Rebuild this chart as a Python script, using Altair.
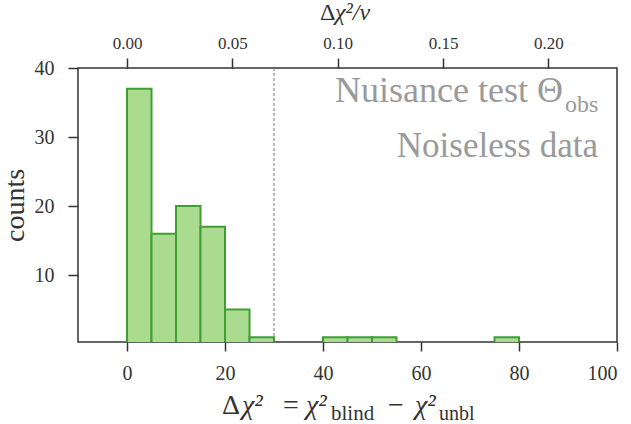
import altair as alt
import pandas as pd

# ---- data ----
bin_start = [0, 5, 10, 15, 20, 25, 40, 45, 50, 75]
bin_end = [5, 10, 15, 20, 25, 30, 45, 50, 55, 80]
counts = [37, 16, 20, 17, 5, 1, 1, 1, 1, 1]
x_ticks = [0, 20, 40, 60, 80, 100]
y_ticks = [10, 20, 30, 40]
top_ticks = [0.00, 0.05, 0.10, 0.15, 0.20]
nu = 430          # degrees of freedom (Δχ² / ν on the top axis)
cut = [30]        # dashed threshold line
x_min, x_max = -10, 100
y_min, y_max = 0.3, 40

FONT = "Liberation Serif"
W, H = 539, 274
DARK = "#333333"
GREY = "#9a9a9a"

hist = pd.DataFrame({"start": bin_start, "end": bin_end, "count": counts})

bars = alt.Chart(hist).mark_rect(
    fill="#aadb8e", stroke="#3f9f34", strokeWidth=2, clip=True
).encode(
    x=alt.X("start:Q",
            scale=alt.Scale(domain=[x_min, x_max], nice=False, zero=False),
            axis=alt.Axis(orient="bottom", values=x_ticks, title=None,
                          labelFontSize=20, labelPadding=12, tickSize=9)),
    x2="end:Q",
    y=alt.Y("count:Q",
            scale=alt.Scale(domain=[y_min, y_max], nice=False, zero=False),
            axis=alt.Axis(values=y_ticks, title="counts", labelFontSize=20,
                          labelPadding=14, tickSize=10,
                          titleFontSize=28, titleFontWeight="normal",
                          titleColor=DARK, titleAngle=270, titleX=-55,
                          titleY=H / 2, titleAlign="center",
                          titleBaseline="alphabetic")),
    y2=alt.datum(0),
)

rule = alt.Chart(pd.DataFrame({"cut": cut})).mark_rule(
    color="#777777", strokeWidth=1, strokeDash=[3, 2]
).encode(x=alt.X("cut:Q", title=None))


def label(text, x, y, size, align="left", color=DARK, style="normal"):
    return alt.Chart(pd.DataFrame({"t": [text]})).mark_text(
        align=align, baseline="alphabetic", fontSize=size, font=FONT,
        color=color, fontStyle=style
    ).encode(x=alt.value(x), y=alt.value(y), text="t:N")


texts = [
    # annotation
    label("Nuisance test Θ", 485, 34, 36, align="right", color=GREY),
    label("obs", 487, 44, 24, color=GREY),
    label("Noiseless data", 520, 89, 35, align="right", color=GREY),
    # bottom title  Δχ² = χ²_blind − χ²_unbl
    label("Δ", 144, 346, 28),
    label("χ²", 164, 346, 28, style="italic"),
    label("=", 205, 346, 28),
    label("χ²", 228, 346, 28, style="italic"),
    label("blind", 253, 352, 21),
    label("−", 310, 346, 28),
    label("χ²", 337, 346, 28, style="italic"),
    label("unbl", 361, 352, 20),
    # top title  Δχ²/ν
    label("Δ", 242, -48, 24),
    label("χ²/ν", 257, -48, 24, style="italic"),
]

top = alt.Chart(pd.DataFrame({"r": top_ticks})).mark_point(opacity=0).encode(
    x=alt.X("r:Q",
            scale=alt.Scale(domain=[x_min / nu, x_max / nu], nice=False, zero=False),
            axis=alt.Axis(orient="top", values=top_ticks, format=".2f",
                          title=None, labelFontSize=17, labelPadding=6,
                          tickSize=10))
)

chart = alt.layer(
    alt.layer(bars, rule, *texts), top
).resolve_scale(x="independent").properties(
    width=W, height=H,
    padding={"left": 78, "top": 68, "right": 14, "bottom": 82},
    autosize=alt.AutoSizeParams(type="none"),
).configure_view(
    stroke=DARK, strokeWidth=1.5
).configure_axis(
    domain=False, grid=False, tickColor=DARK, tickWidth=1.5,
    labelFont=FONT, labelColor=DARK, titleFont=FONT
)

chart.save("out.html", embed_options={"renderer": "svg", "actions": False})
